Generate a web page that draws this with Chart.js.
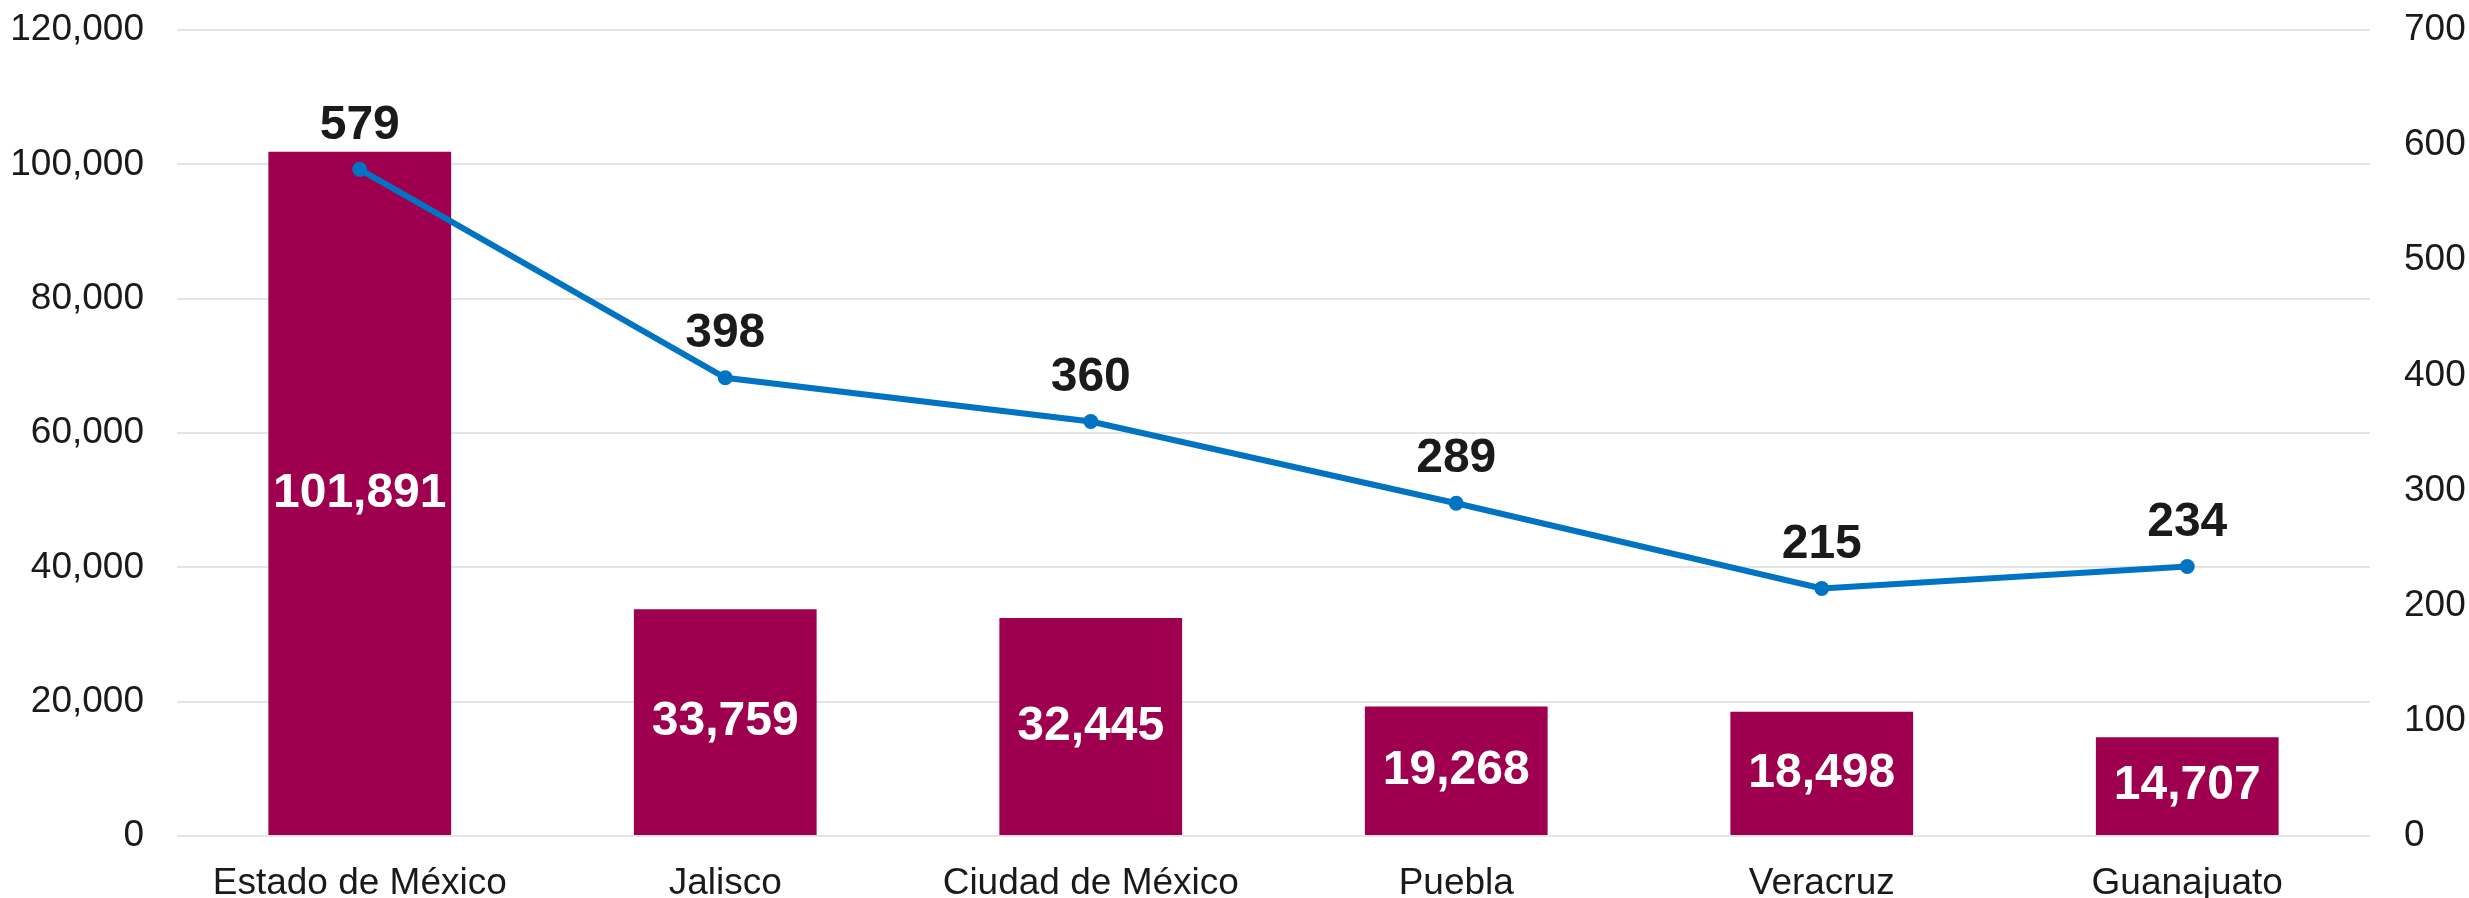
<!DOCTYPE html>
<html>
<head>
<meta charset="utf-8">
<script src="https://cdn.jsdelivr.net/npm/chart.js@4/dist/chart.umd.min.js"></script>
<style>
  html, body { margin: 0; padding: 0; background: #ffffff; }
  canvas { display: block; }
</style>
</head>
<body>
<canvas id="estadosChart" width="2469" height="898"></canvas>
<script>
// categorias y series
const estados = ['Estado de México', 'Jalisco', 'Ciudad de México', 'Puebla', 'Veracruz', 'Guanajuato'];
const valoresBarras = [101891, 33759, 32445, 19268, 18498, 14707];
const valoresLinea = [579, 398, 360, 289, 215, 234];

const ticksIzq = [0, 20000, 40000, 60000, 80000, 100000, 120000];
const ticksDer = [0, 100, 200, 300, 400, 500, 600, 700];

const FONT = "'Liberation Sans', Arial, Helvetica, sans-serif";
const fmt = v => v.toLocaleString('en-US');

// dibuja las etiquetas de valores sobre barras y puntos
const etiquetas = {
    id: 'etiquetas',
    afterDatasetsDraw(chart) {
        const ctx = chart.ctx;
        ctx.save();
        ctx.font = 'bold 48px ' + FONT;
        ctx.textAlign = 'center';
        ctx.textBaseline = 'middle';

        const metaBar = chart.getDatasetMeta(1);
        ctx.fillStyle = '#ffffff';
        metaBar.data.forEach((el, i) => {
            ctx.fillText(fmt(valoresBarras[i]), el.x, (el.y + el.base) / 2);
        });

        const metaLinea = chart.getDatasetMeta(0);
        ctx.fillStyle = '#1a1a1a';
        metaLinea.data.forEach((el, i) => {
            ctx.fillText(fmt(valoresLinea[i]), el.x, el.y - 44);
        });
        ctx.restore();
    }
};

// ancho fijo de los ejes verticales, sin relleno extra arriba/abajo
function fijarEje(ancho) {
    return function (scale) {
        scale.width = ancho;
        scale.paddingTop = 0;
        scale.paddingBottom = 0;
    };
}

new Chart(document.getElementById('estadosChart'), {
    data: {
        labels: estados,
        datasets: [
            {
                type: 'line',
                data: valoresLinea,
                yAxisID: 'yDer',
                borderColor: '#0074C2',
                backgroundColor: '#0074C2',
                borderWidth: 6,
                pointRadius: 7.5,
                pointBorderWidth: 0,
                tension: 0,
                order: 0
            },
            {
                type: 'bar',
                data: valoresBarras,
                yAxisID: 'yIzq',
                backgroundColor: '#9E004F',
                borderWidth: 0,
                barPercentage: 0.5,
                categoryPercentage: 1.0,
                order: 1
            }
        ]
    },
    options: {
        responsive: false,
        animation: false,
        layout: { autoPadding: false, padding: { top: 30, left: 0, right: 0, bottom: 0 } },
        plugins: {
            legend: { display: false },
            tooltip: { enabled: false }
        },
        scales: {
            x: {
                grid: { display: false },
                border: { display: false },
                ticks: {
                    color: '#1a1a1a',
                    font: { family: FONT, size: 37, lineHeight: 1 },
                    padding: 21,
                    maxRotation: 0,
                    autoSkip: false
                },
                afterFit(scale) { scale.height = 62; }
            },
            yIzq: {
                position: 'left',
                min: 0,
                max: 120000,
                afterBuildTicks(scale) { scale.ticks = ticksIzq.map(v => ({ value: v })); },
                grid: { color: '#e4e4e4', lineWidth: 2, drawTicks: false },
                border: { display: false },
                ticks: {
                    color: '#1a1a1a',
                    font: { family: FONT, size: 37, lineHeight: 1 },
                    padding: 33,
                    callback: v => fmt(v)
                },
                afterFit: fijarEje(177)
            },
            yDer: {
                position: 'right',
                min: 0,
                max: 700,
                afterBuildTicks(scale) { scale.ticks = ticksDer.map(v => ({ value: v })); },
                grid: { display: false, drawTicks: false },
                border: { display: false },
                ticks: {
                    color: '#1a1a1a',
                    font: { family: FONT, size: 37, lineHeight: 1 },
                    padding: 34,
                    callback: v => fmt(v)
                },
                afterFit: fijarEje(99)
            }
        }
    },
    plugins: [etiquetas]
});
</script>
</body>
</html>
